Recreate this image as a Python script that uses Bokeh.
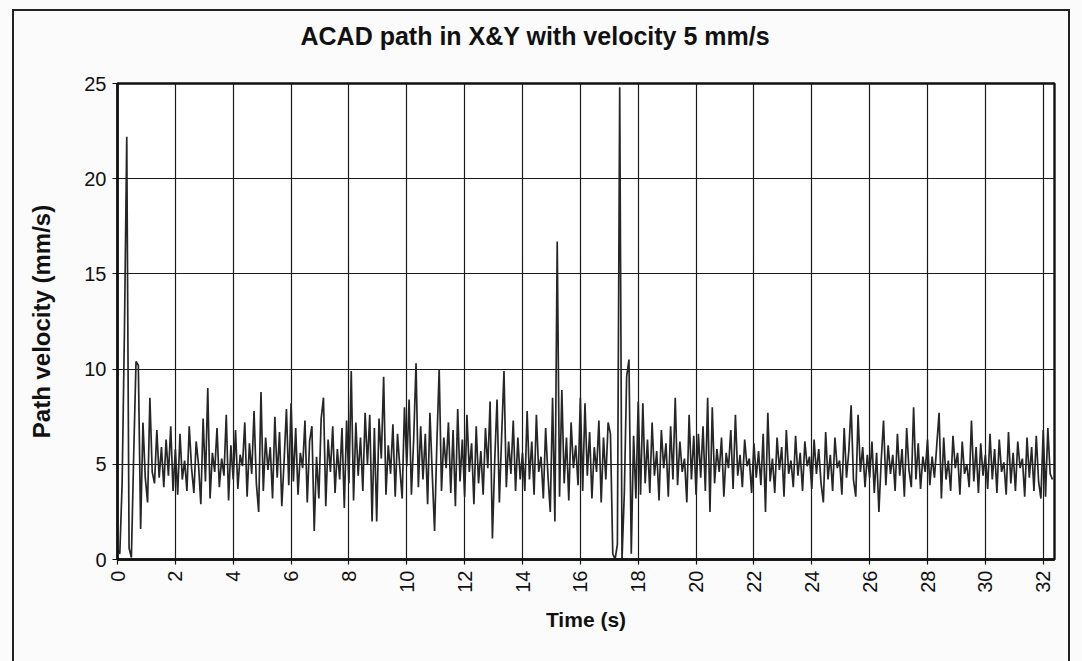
import numpy as np
from bokeh.plotting import figure
from bokeh.models import FixedTicker, ColumnDataSource, InlineStyleSheet, Title
from bokeh.embed import file_html
from bokeh.resources import INLINE

# ---- data ----
title_text = "ACAD path in X&Y with velocity 5 mm/s"
x_label = "Time (s)"
y_label = "Path velocity (mm/s)"
x_ticks = [0, 2, 4, 6, 8, 10, 12, 14, 16, 18, 20, 22, 24, 26, 28, 30, 32]
y_ticks = [0, 5, 10, 15, 20, 25]
sample_step = 0.08  # seconds between samples

v_00_02 = [0.5, 0.3, 4.0, 12.0, 22.2, 0.6, 0.1, 5.5, 10.4, 10.2, 1.6, 7.2, 4.3, 3.0, 8.5, 4.6, 4.0, 6.8, 4.3, 5.9, 3.8, 6.3, 4.4, 7.0, 3.6]
v_02_04 = [5.8, 3.4, 6.6, 4.2, 5.2, 3.6, 7.0, 4.8, 3.5, 6.2, 5.0, 2.9, 7.4, 4.1, 9.0, 3.2, 5.6, 4.6, 6.9, 3.8, 5.3, 4.4, 7.6, 3.1, 6.0]
v_04_06 = [4.2, 6.8, 3.7, 5.5, 4.9, 7.2, 3.3, 6.1, 4.5, 7.8, 4.0, 2.5, 8.8, 3.6, 6.4, 4.7, 5.9, 3.2, 7.5, 4.3, 6.7, 2.8, 5.2, 7.9, 3.9]
v_06_08 = [8.2, 4.1, 6.9, 3.4, 5.6, 4.8, 7.3, 3.0, 6.2, 7.0, 1.5, 5.4, 3.2, 7.4, 8.5, 2.8, 6.3, 4.6, 7.0, 3.5, 5.8, 4.2, 6.9, 2.7, 7.3]
v_08_10 = [4.0, 9.9, 3.1, 7.2, 4.4, 6.4, 3.6, 7.7, 5.0, 7.6, 2.0, 6.9, 2.0, 7.4, 5.3, 9.6, 3.4, 6.0, 4.5, 7.1, 3.3, 6.6, 4.8, 3.2, 8.0]
v_10_12 = [4.9, 8.4, 3.4, 6.4, 10.3, 3.8, 7.0, 4.2, 6.6, 2.9, 7.7, 4.5, 1.5, 6.1, 10.0, 3.6, 6.4, 4.8, 7.2, 3.5, 6.8, 2.8, 7.9, 4.1, 6.3]
v_12_14 = [3.3, 7.6, 4.6, 6.1, 2.9, 7.0, 4.0, 5.7, 3.4, 6.9, 4.8, 8.3, 1.1, 5.2, 8.4, 3.0, 6.5, 9.9, 3.8, 6.2, 4.5, 7.3, 3.6, 6.4, 4.2]
v_14_16 = [5.6, 3.6, 7.8, 4.2, 6.2, 3.4, 7.6, 4.6, 5.4, 3.2, 6.9, 4.4, 2.5, 8.5, 2.0, 16.7, 3.3, 8.9, 4.0, 6.4, 3.1, 7.2, 4.8, 6.0, 3.9]
v_16_18 = [8.5, 3.6, 8.2, 4.4, 6.7, 3.2, 5.9, 4.6, 7.3, 3.0, 6.4, 4.2, 7.2, 6.6, 0.3, 0.0, 0.8, 24.8, 0.0, 3.5, 9.6, 10.5, 0.3, 6.5, 3.2]
v_18_20 = [8.3, 3.4, 8.2, 4.0, 6.3, 3.5, 7.2, 4.4, 5.7, 3.1, 6.8, 4.8, 6.1, 3.3, 7.0, 4.2, 8.5, 3.9, 6.2, 4.6, 5.3, 3.0, 7.6, 4.2, 6.5]
v_20_22 = [3.4, 6.6, 4.3, 7.0, 3.6, 8.5, 2.5, 8.0, 4.0, 5.8, 4.6, 6.4, 3.3, 5.6, 4.8, 6.8, 3.7, 7.6, 4.4, 5.5, 3.8, 6.3, 4.9, 5.3, 3.5]
v_22_24 = [6.1, 4.3, 5.7, 3.9, 6.6, 2.5, 7.7, 4.1, 5.3, 3.5, 6.4, 4.7, 5.9, 3.3, 6.8, 4.5, 5.2, 3.8, 6.5, 4.4, 5.6, 3.6, 6.2, 4.9, 5.4]
v_24_26 = [3.7, 6.3, 4.5, 5.8, 4.0, 3.0, 6.7, 4.2, 5.5, 3.6, 6.4, 4.8, 5.2, 3.4, 6.9, 4.3, 5.7, 8.1, 4.2, 3.3, 7.6, 4.6, 5.9, 3.8, 5.5]
v_26_28 = [4.3, 6.2, 3.5, 5.6, 2.5, 5.2, 7.3, 3.9, 6.0, 4.5, 5.5, 3.6, 6.6, 4.4, 5.8, 3.3, 6.9, 4.7, 3.8, 8.0, 4.2, 6.1, 3.7, 5.4, 4.6]
v_28_30 = [6.3, 3.9, 5.4, 4.3, 6.0, 7.7, 3.2, 6.4, 4.2, 5.2, 3.6, 6.5, 4.8, 5.6, 3.4, 6.2, 4.5, 5.0, 3.8, 7.3, 4.1, 5.9, 3.5, 6.1, 4.4]
v_30_32 = [5.5, 3.7, 6.6, 4.2, 5.8, 3.5, 6.3, 4.6, 5.1, 3.4, 6.7, 4.0, 5.6, 3.6, 6.2, 4.8, 5.3, 3.3, 6.4, 4.3, 5.9, 3.6, 6.5, 4.1, 3.2]
v_32_end = [6.8, 3.3, 6.9, 4.5, 4.2]

velocity = (v_00_02 + v_02_04 + v_04_06 + v_06_08 + v_08_10 + v_10_12 + v_12_14 + v_14_16
            + v_16_18 + v_18_20 + v_20_22 + v_22_24 + v_24_26 + v_26_28 + v_28_30 + v_30_32 + v_32_end)
time = [round(i * sample_step, 2) for i in range(len(velocity))]

src = ColumnDataSource(dict(t=time, v=velocity))

FONT = "Liberation Sans"

p = figure(width=1082, height=661, x_range=(0, 32.39), y_range=(0, 25),
           output_backend="svg", toolbar_location=None, title=None,
           min_border_left=117, min_border_right=28, min_border_top=83, min_border_bottom=102)

# spacer panel next to the frame, then the real title above it
p.add_layout(Title(text=" ", text_font_size="2px", standoff=30), "above")
p.add_layout(Title(text=title_text, align="left", offset=183, standoff=0,
                   text_font=FONT, text_font_size="25px", text_font_style="bold",
                   text_color="#111111"), "above")

p.background_fill_color = "#ffffff"
p.border_fill_color = None
p.outline_line_color = "#111111"
p.outline_line_width = 2.4
css = (":host { background-color: #fbfbfb;"
       " background-image: linear-gradient(#222,#222), linear-gradient(#222,#222), linear-gradient(#222,#222);"
       " background-repeat: no-repeat;"
       " background-size: 1058px 2px, 2px 100%, 2px 100%;"
       " background-position: 12px 9px, 12px 9px, 1068px 9px; }")
p.stylesheets = [InlineStyleSheet(css=css)]

p.line("t", "v", source=src, line_color="#262626", line_width=1.7)

for ax in (p.xaxis[0], p.yaxis[0]):
    ax.axis_line_color = "#111111"
    ax.axis_line_width = 2.4
    ax.major_tick_line_color = "#111111"
    ax.major_tick_line_width = 1.2
    ax.major_tick_in = 0
    ax.major_tick_out = 5
    ax.minor_tick_line_color = None
    ax.major_label_text_font = FONT
    ax.major_label_text_font_size = "20px"
    ax.major_label_text_color = "#111111"
    ax.axis_label_text_font = FONT
    ax.axis_label_text_font_style = "bold"
    ax.axis_label_text_color = "#111111"

p.xaxis[0].axis_label_text_font_size = "21px"
p.yaxis[0].axis_label_text_font_size = "24px"
p.xaxis[0].ticker = FixedTicker(ticks=x_ticks)
p.yaxis[0].ticker = FixedTicker(ticks=y_ticks)
p.xaxis[0].major_label_orientation = np.pi / 2
p.xaxis[0].axis_label = x_label
p.yaxis[0].axis_label = y_label
p.yaxis[0].major_label_standoff = 6
p.yaxis[0].axis_label_standoff = 26
p.xaxis[0].major_label_standoff = 6
p.xaxis[0].axis_label_standoff = 12

p.xgrid.ticker = FixedTicker(ticks=x_ticks)
p.ygrid.ticker = FixedTicker(ticks=y_ticks)
for g in (p.xgrid[0], p.ygrid[0]):
    g.grid_line_color = "#1a1a1a"
    g.grid_line_width = 1.2
    g.grid_line_alpha = 1.0

open("out.html", "w").write(file_html(p, INLINE))
